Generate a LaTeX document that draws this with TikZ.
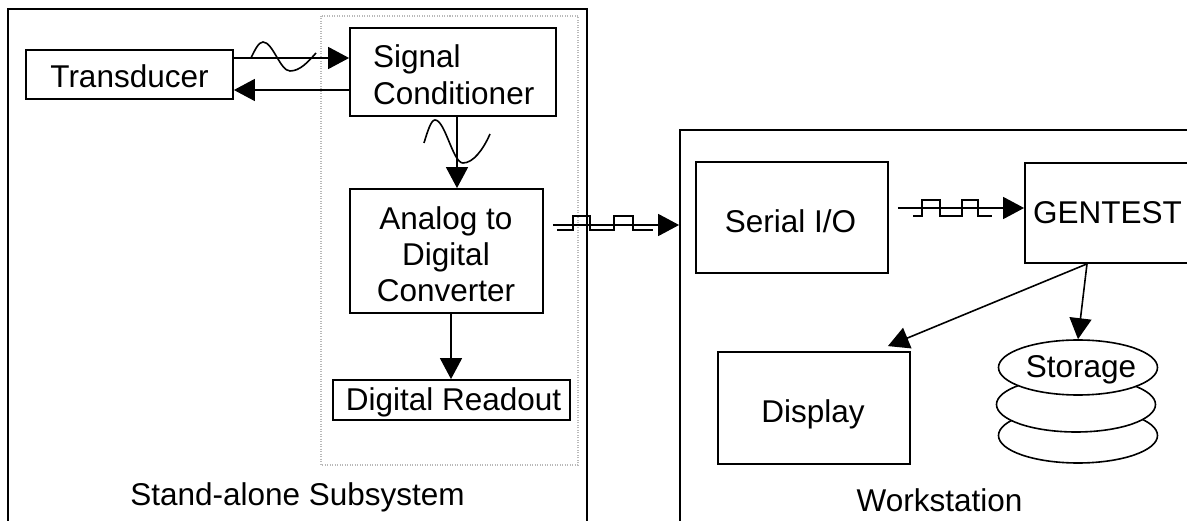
\documentclass[tikz,border=0pt]{standalone}
\usepackage{fontspec}
\setmainfont{Liberation Sans}
\usetikzlibrary{arrows.meta,shapes.geometric}
\begin{document}
\begin{tikzpicture}[x=1pt,y=-1pt,
  box/.style={draw, line width=1.8pt, inner sep=0pt},
  frame/.style={draw, line width=1.8pt, inner sep=0pt},
  txt/.style={inner sep=0pt, anchor=base, font=\fontsize{31.5}{36}\selectfont},
  arr/.style={line width=1.6pt, -{Triangle[length=21pt,width=22pt]}},
  wave/.style={line width=1.6pt},
  pulse/.style={line width=1.5pt},
  ell/.style={ellipse, draw, fill=white, line width=1.6pt, inner sep=0pt,
              minimum width=159pt, minimum height=55pt},
  dotbox/.style={draw=gray!55, line width=1.2pt, dash pattern=on 1pt off 1.5pt}]
\useasboundingbox (0,0) rectangle (1187,521);
\begin{scope}
\clip (0,0) rectangle (1187,521);
% outer frames
\node[frame, minimum width=579pt, minimum height=560pt] (sa) at (297.5,289) {};
\node[frame, minimum width=560pt, minimum height=440pt] (ws) at (960,350) {};
\draw[dotbox] (321,16) rectangle (578,465);
% boxes
\node[box, minimum width=207pt, minimum height=49pt] (trans) at (129.5,74.5) {};
\node[box, minimum width=206pt, minimum height=88pt] (sc) at (453,72) {};
\node[box, minimum width=193pt, minimum height=124pt] (adc) at (446.5,251) {};
\node[box, minimum width=237pt, minimum height=40pt] (dr) at (451.5,400) {};
\node[box, minimum width=192pt, minimum height=111pt] (sio) at (792,217.5) {};
\node[box, minimum width=200pt, minimum height=100pt] (gen) at (1125,213) {};
\node[box, minimum width=192pt, minimum height=112pt] (disp) at (814,408) {};
% storage
\node[ell] (st3) at (1078,435.5) {};
\node[ell] (st2) at (1076,404.5) {};
\node[ell] (st1) at (1078,367.5) {};
% texts
\node[txt] (transtxt) at (129.5,88) {Transducer};
\node[txt, anchor=base west] (sctxta) at (373,68) {Signal};
\node[txt, anchor=base west] (sctxtb) at (373,105) {Conditioner};
\node[txt] (adctxta) at (446,230) {Analog to};
\node[txt] (adctxtb) at (446,266) {Digital};
\node[txt] (adctxtc) at (446,302) {Converter};
\node[txt] (drtxt) at (453.5,410) {Digital Readout};
\node[txt] (siotxt) at (790.5,233) {Serial I/O};
\node[txt, anchor=base west] (gentxt) at (1033,224) {GENTEST};
\node[txt] (disptxt) at (813,423) {Display};
\node[txt] (sttxt) at (1081,378) {Storage};
\node[txt] (satxt) at (297.5,505) {Stand-alone Subsystem};
\node[txt] (wstxt) at (939.5,511) {Workstation};
% connectors
\draw[arr] ([yshift=16.5pt]trans.east) -- ([yshift=16.5pt]trans.east -| sc.west);
\draw[arr] ([yshift=-15.5pt]trans.east -| sc.west) -- ([yshift=-15.5pt]trans.east);
\draw[arr] ([xshift=4pt]sc.south) -- ([xshift=4pt]sc.south |- adc.north);
\draw[arr] ([xshift=4.5pt]adc.south) -- ([xshift=4.5pt]adc.south |- dr.north);
\draw[arr] ([xshift=9pt,yshift=26pt]adc.east) -- ([yshift=26pt]adc.east -| ws.west);
\draw[arr] ([xshift=9pt,yshift=9.5pt]sio.east) -- ([yshift=9.5pt]sio.east -| gen.west);
\coordinate (gout) at ([xshift=-38pt]gen.south);
\draw[arr] (gout) -- ([xshift=-23pt,yshift=5pt]disp.north east);
\draw[arr] (gout) -- (st1.north);
% analog waves
\draw[wave] (251,58) sin (263,42) cos (276.5,56.5) sin (290,71)
  .. controls (300,71) and (308,62) .. (316,53);
\draw[wave] (424,143) sin (435,120) cos (449,141.5) sin (463,163)
  .. controls (473,163) and (483,150) .. (490,134);
% digital pulses
\draw[pulse] (557,230) -- (573,230) -- (573,216) -- (590,216) -- (590,230) -- (614,230)
  -- (614,216) -- (633,216) -- (633,230) -- (653,230);
\draw[pulse] (913,216) -- (922,216) -- (922,200) -- (940,200) -- (940,216) -- (962,216)
  -- (962,200) -- (978,200) -- (978,216) -- (992,216);
\end{scope}
\end{tikzpicture}
\end{document}
